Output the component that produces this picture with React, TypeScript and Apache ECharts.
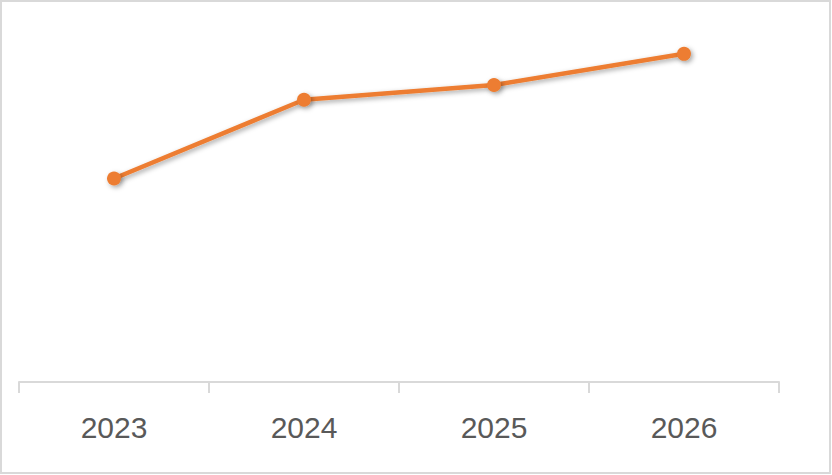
import React, { useEffect, useRef } from "react";
import * as echarts from "echarts";

const categories = ["2023", "2024", "2025", "2026"];
const values = [6.2, 8.6, 9.05, 10.0];

export default function App() {
  const ref = useRef<HTMLDivElement>(null);
  useEffect(() => {
    document.body.style.margin = "0";
    const chart = echarts.init(ref.current!, null, { renderer: "svg" });
    chart.setOption({
      animation: false,
      backgroundColor: "#ffffff",
      graphic: [
        {
          type: "rect",
          shape: { x: 1, y: 1, width: 829, height: 472 },
          style: { fill: "none", stroke: "#d9d9d9", lineWidth: 2 },
          silent: true,
        },
      ],
      grid: { left: 19, right: 53, top: 21, bottom: 93 },
      xAxis: {
        type: "category",
        data: categories,
        boundaryGap: true,
        axisLine: { lineStyle: { color: "#d9d9d9", width: 2 } },
        axisTick: { show: true, length: 11, lineStyle: { color: "#d9d9d9", width: 2 } },
        axisLabel: {
          color: "#595959",
          fontSize: 30,
          fontFamily: "Liberation Sans",
          margin: 30,
        },
      },
      yAxis: {
        type: "value",
        min: 0,
        max: 11,
        show: false,
        splitLine: { show: false },
      },
      series: [
        {
          type: "line",
          data: values,
          symbol: "circle",
          symbolSize: 14,
          lineStyle: {
            color: "#ED7D31",
            width: 4.5,
            shadowColor: "rgba(0,0,0,0.35)",
            shadowBlur: 5,
            shadowOffsetX: 2,
            shadowOffsetY: 2,
          },
          itemStyle: {
            color: "#ED7D31",
            shadowColor: "rgba(0,0,0,0.35)",
            shadowBlur: 5,
            shadowOffsetX: 2,
            shadowOffsetY: 2,
          },
        },
      ],
    });
    return () => chart.dispose();
  }, []);
  return <div ref={ref} style={{ width: 832, height: 475 }} />;
}
